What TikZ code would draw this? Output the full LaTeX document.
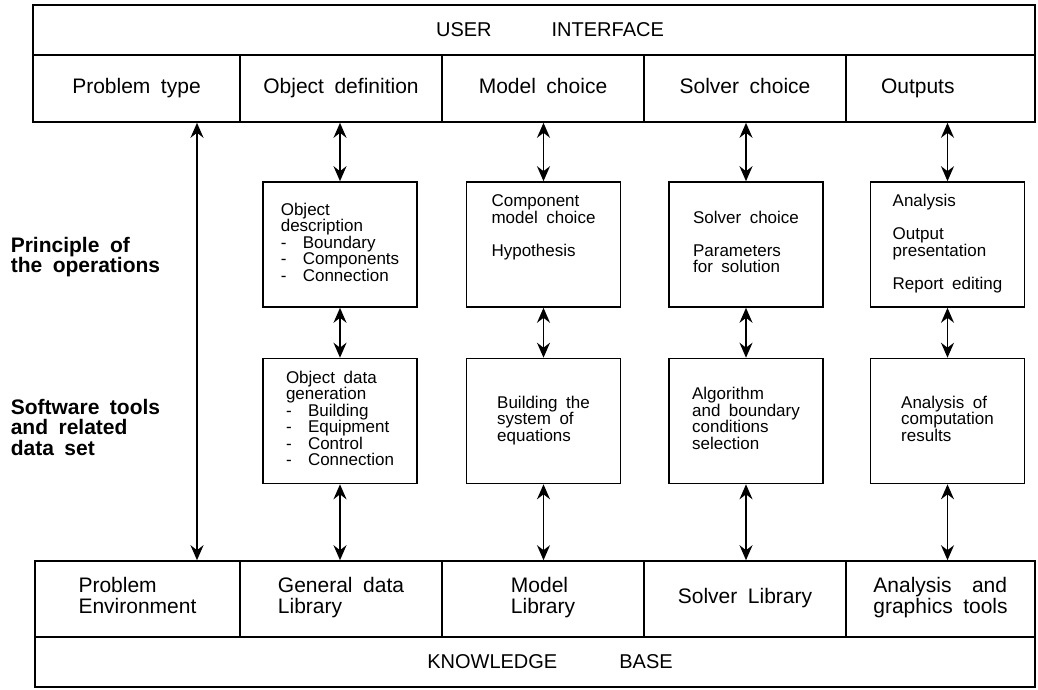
\documentclass[tikz,border=0pt]{standalone}
\usepackage{fontspec}
\setmainfont{Liberation Sans}[WordSpace=1.8]
\usetikzlibrary{arrows.meta}

\tikzset{
  band/.style={draw, minimum height=50pt, inner sep=0pt, font=\fontsize{20}{22}\selectfont},
  topcell/.style={draw, minimum height=67pt, inner sep=0pt, align=left, font=\fontsize{21}{22}\selectfont,
    text height=14pt, text depth=4pt},
  botcell/.style={draw, minimum height=76pt, inner sep=0pt, align=left, font=\fontsize{21}{21}\selectfont,
    execute at begin node=\strut, execute at end node=\strut},
  opbox/.style={draw, minimum width=154pt, minimum height=125pt, inner sep=0pt, align=left, font=\fontsize{17}{16.5}\selectfont,
    execute at begin node=\strut, execute at end node=\strut},
  sidetext/.style={align=left, anchor=west, inner sep=0pt, font=\bfseries\fontsize{21}{20.5}\selectfont},
  link/.style={{Stealth[length=15pt,width=13pt,inset=5pt]}-{Stealth[length=15pt,width=13pt,inset=5pt]}},
}
\newcommand{\itm}[1]{\makebox[22pt][l]{-}#1}

\begin{document}
\begin{tikzpicture}[x=1pt, y=-1pt, line width=1.6pt]
\useasboundingbox (0,0) rectangle (1038,689);

% user interface
\node[band, minimum width=1002pt] (ui) at (534,30) {\hspace*{32pt}USER\hspace{60pt}INTERFACE};
\node[topcell, minimum width=207pt] (ptype) at (136.5,88.5) {Problem type};
\node[topcell, minimum width=202pt] (objdef) at (341,88.5) {Object definition};
\node[topcell, minimum width=202pt] (modch) at (543,88.5) {Model choice};
\node[topcell, minimum width=202pt] (solch) at (745,88.5) {Solver choice};
\node[topcell, minimum width=189pt, text width=119pt] (outp) at (940.5,88.5) {Outputs};

% operations
\node[opbox] (b1) at (340,244.5) {Object\\description\\\itm{Boundary}\\\itm{Components}\\\itm{Connection}};
\node[opbox] (b2) at (543.5,244.5) {Component\\model choice\\[16.5pt]Hypothesis\\[16.5pt]~};
\node[opbox] (b3) at (746,244.5) {Solver choice\\[16.5pt]Parameters\\for solution};
\node[opbox] (b4) at (947.5,244.5) {Analysis\\[16.5pt]Output\\presentation\\[16.5pt]Report editing};

% software tools
\node[opbox] (b5) at (340,421) {Object data\\generation\\\itm{Building}\\\itm{Equipment}\\\itm{Control}\\\itm{Connection}};
\node[opbox] (b6) at (543.5,421) {Building the\\system of\\equations};
\node[opbox] (b7) at (746,421) {Algorithm\\and boundary\\conditions\\selection};
\node[opbox] (b8) at (947.5,421) {Analysis of\\computation\\results};

\node[sidetext] (princ) at (10,257) {Principle of\\the operations};
\node[sidetext] (soft) at (10,427) {Software tools\\and related\\data set};

% knowledge base
\node[botcell, minimum width=205pt] (penv) at (137.5,599) {Problem\\Environment};
\node[botcell, minimum width=202pt] (gdl) at (341,599) {General data\\Library};
\node[botcell, minimum width=202pt] (mlib) at (543,599) {Model\\Library};
\node[botcell, minimum width=202pt] (slib) at (745,599) {Solver Library};
\node[botcell, minimum width=189pt] (agt) at (940.5,599) {Analysis \hspace{10pt}and\\graphics tools};
\node[band, minimum width=1000pt] (kb) at (535,662) {\hspace*{30pt}KNOWLEDGE\hspace{62pt}BASE};

% arrows
\coordinate (lft) at (197,0);
\draw[link] (ptype.south -| lft) -- (penv.north -| lft);
\foreach \b/\t/\d/\k in {b1/objdef/b5/gdl, b2/modch/b6/mlib, b3/solch/b7/slib, b4/outp/b8/agt} {
  \draw[link] (\t.south -| \b) -- (\b);
  \draw[link] (\b) -- (\d);
  \draw[link] (\d) -- (\k.north -| \d);
}
\end{tikzpicture}
\end{document}
